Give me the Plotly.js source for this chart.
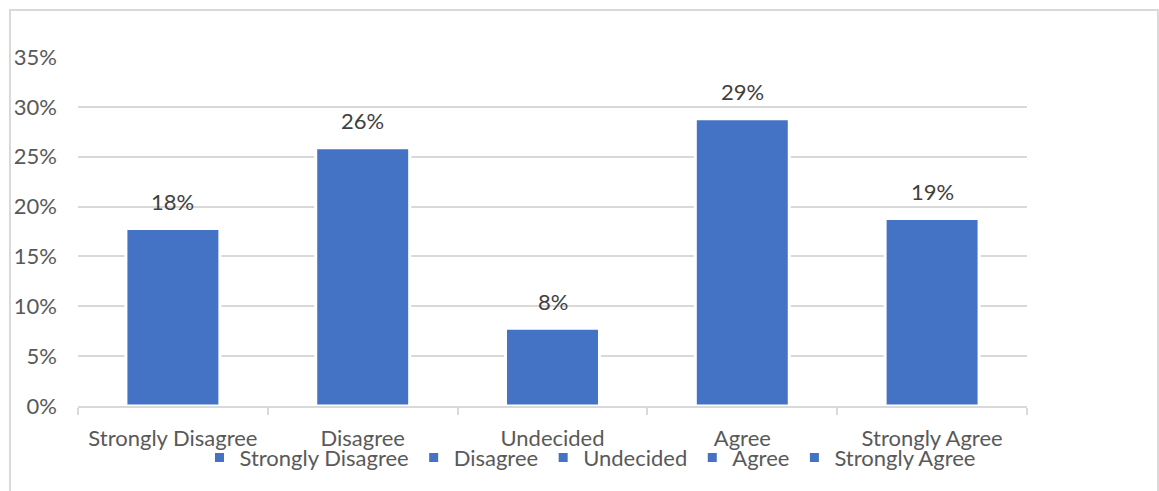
<!DOCTYPE html>
<html>
<head>
<meta charset="utf-8">
<script src="https://cdn.plot.ly/plotly-3.0.1.min.js"></script>
<style>
  html, body { margin: 0; padding: 0; background: #ffffff; }
  #chart { width: 1159px; height: 491px; }
</style>
</head>
<body>
<div id="chart"></div>
<script>
// Survey responses by agreement level (share of respondents)
const categories = ["Strongly Disagree", "Disagree", "Undecided", "Agree", "Strongly Agree"];
const shares = [0.178, 0.259, 0.078, 0.288, 0.188];
const yTickValues = [0, 0.05, 0.10, 0.15, 0.20, 0.25, 0.30, 0.35];

const barColor = "#4472C4";
const textColor = "#595959";
const gridColor = "#d9d9d9";
const fontFamily = "Lato, 'Open Sans', sans-serif";
const fontSize = 22;

// One trace per category so each response level gets its own legend entry
const traces = categories.map((cat, i) => ({
  type: "bar",
  name: cat,
  x: [cat],
  y: [shares[i]],
  marker: { color: barColor, line: { color: "#ffffff", width: 3 } },
  hoverinfo: "x+y",
  showlegend: true
}));

// Value labels above each bar, formatted from the bar value itself
const labels = categories.map((cat, i) => ({
  x: cat,
  y: shares[i],
  xref: "x",
  yref: "y",
  text: Math.round(shares[i] * 100) + "%",
  showarrow: false,
  yanchor: "middle",
  yshift: 27,
  font: { family: fontFamily, size: fontSize, color: "#404040" }
}));

const layout = {
  width: 1159,
  height: 491,
  margin: { l: 78, r: 132, t: 57, b: 85 },
  paper_bgcolor: "#ffffff",
  plot_bgcolor: "#ffffff",
  barmode: "overlay",
  bargap: 0.505,
  font: { family: fontFamily, size: fontSize, color: textColor },
  xaxis: {
    type: "category",
    categoryorder: "array",
    categoryarray: categories,
    showline: true,
    linecolor: gridColor,
    linewidth: 2,
    ticks: "outside",
    tickson: "boundaries",
    ticklen: 7,
    tickwidth: 2,
    tickcolor: gridColor,
    showgrid: false,
    ticklabelstandoff: 12,
    tickfont: { family: fontFamily, size: fontSize, color: textColor },
    fixedrange: true
  },
  yaxis: {
    range: [0, 0.35],
    tickvals: yTickValues,
    tickformat: ".0%",
    showgrid: true,
    gridcolor: gridColor,
    gridwidth: 2,
    zeroline: false,
    showline: false,
    ticks: "",
    ticklabelstandoff: 20,
    tickfont: { family: fontFamily, size: fontSize, color: textColor },
    fixedrange: true
  },
  legend: {
    orientation: "h",
    x: 0.5395,
    xanchor: "center",
    y: -0.088,
    yanchor: "top",
    font: { family: fontFamily, size: fontSize, color: textColor },
    itemwidth: 30,
    bgcolor: "rgba(0,0,0,0)"
  },
  annotations: labels,
  shapes: [{
    type: "rect",
    xref: "paper",
    yref: "paper",
    x0: -0.0717,
    x1: 1.138,
    y0: -0.27,
    y1: 1.1347,
    line: { color: gridColor, width: 2 },
    fillcolor: "rgba(0,0,0,0)",
    layer: "below"
  }]
};

Plotly.newPlot("chart", traces, layout, { displayModeBar: false, staticPlot: true });
</script>
</body>
</html>
